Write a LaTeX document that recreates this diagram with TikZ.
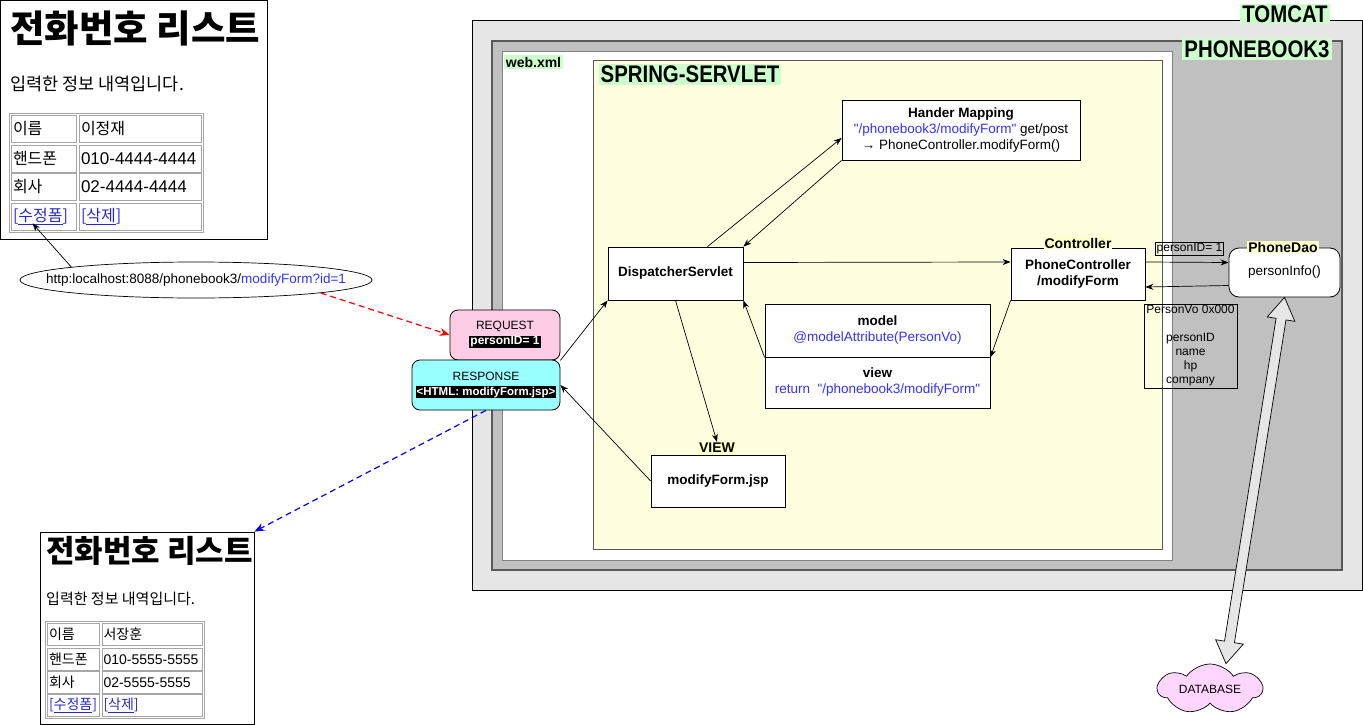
\documentclass[tikz,border=0pt]{standalone}
\usepackage{fontspec}
\setmainfont{Liberation Sans}[Ligatures=TeXOff]
\newfontfamily\kr{Noto Sans CJK KR}
\newfontfamily\tagfont{Liberation Sans}[FakeStretch=0.85]
\usetikzlibrary{positioning, arrows.meta, shapes.geometric, shapes.symbols, calc}
\setlength{\fboxsep}{1pt}
\definecolor{tomcatgray}{RGB}{230,230,230}
\definecolor{appgray}{RGB}{192,192,192}
\definecolor{springyellow}{RGB}{255,255,224}
\definecolor{taggreen}{RGB}{204,255,204}
\definecolor{tagyellow}{RGB}{255,255,200}
\definecolor{reqpink}{RGB}{255,204,230}
\definecolor{respcyan}{RGB}{153,255,255}
\definecolor{dbpink}{RGB}{255,214,255}
\definecolor{codeblue}{RGB}{51,51,255}
\definecolor{linkblue}{RGB}{40,40,200}
\tikzset{
  tag/.style={
    fill=taggreen,
    inner xsep=2pt,
    inner ysep=2pt,
    font=\tagfont\bfseries\fontsize{24}{26}\selectfont
  },
  boxtag/.style={
    fill=tagyellow,
    inner sep=1pt,
    font=\bfseries\fontsize{14}{16}\selectfont
  },
  unit/.style={
    draw=black,
    fill=white,
    line width=0.8pt,
    align=center,
    font=\fontsize{13.5}{16}\selectfont
  },
  cell/.style={
    draw=gray!70,
    line width=0.8pt,
    align=left,
    inner xsep=2pt,
    inner ysep=0pt
  },
  cellA/.style={cell, text width=61pt, minimum height=27pt, font=\kr\fontsize{16}{18}\selectfont},
  cellB/.style={cell, text width=118pt, minimum height=27pt, font=\fontsize{17}{18}\selectfont},
  cellC/.style={cell, text width=48pt, minimum height=22pt, font=\kr\fontsize{14}{16}\selectfont},
  cellD/.style={cell, inner xsep=1.5pt, text width=97pt, minimum height=22pt, font=\fontsize{14}{16}\selectfont},
  flow/.style={
    -{Stealth[length=8pt,width=6pt]},
    draw=black,
    line width=0.7pt
  },
  reqflow/.style={
    -{Stealth[length=10pt,width=8pt]},
    draw=red,
    line width=1.2pt,
    dash pattern=on 6pt off 4pt
  },
  respflow/.style={
    -{Stealth[length=10pt,width=8pt]},
    draw=blue,
    line width=1.2pt,
    dash pattern=on 6pt off 4pt
  }
}

\begin{document}
\begin{tikzpicture}[x=1pt, y=-1pt]
  \useasboundingbox (0,0) rectangle (1363,725);

  % server containers
  \node[draw=black, fill=tomcatgray, line width=0.8pt, minimum width=890pt, minimum height=570pt] (tomcat) at (917,305) {};
  \node[tag] (tomcattag) at (1285,14) {TOMCAT};
  \node[draw=black!65, fill=appgray, line width=1.2pt, minimum width=850pt, minimum height=529pt] (app) at (917,305.5) {};
  \node[tag] (apptag) at (1257,49) {PHONEBOOK3};
  \node[draw=black!50, fill=white, line width=1pt, minimum width=670pt, minimum height=508pt] (webxml) at (837,306) {};
  \node[tag, font=\bfseries\fontsize{14}{16}\selectfont] (webxmltag) at (533.5,62) {web.xml};
  \node[draw=black!65, fill=springyellow, line width=1pt, minimum width=569pt, minimum height=488pt] (spring) at (877.5,305) {};
  \node[tag] (springtag) at (690,74.5) {SPRING-SERVLET};

  % spring parts
  \node[unit, minimum width=238pt, minimum height=60pt] (hmap) at (961,130) {\textbf{Hander Mapping}\\\textcolor{codeblue}{"/phonebook3/modifyForm"} get/post\\→ PhoneController.modifyForm()};
  \node[unit, font=\bfseries\fontsize{13.5}{16}\selectfont, minimum width=135pt, minimum height=53pt] (disp) at (675.5,273.5) {DispatcherServlet};
  \node[unit, font=\bfseries\fontsize{13.5}{16}\selectfont, minimum width=134pt, minimum height=52pt] (ctrl) at (1078,274) {PhoneController\\/modifyForm};
  \node[boxtag] (ctrltag) at (1078,243) {Controller};
  \node[unit, minimum width=225pt, minimum height=53pt] (model) at (877.5,330.5) {\textbf{model}\\\textcolor{codeblue}{@modelAttribute(PersonVo)}};
  \node[unit, minimum width=225pt, minimum height=51pt] (view) at (877.5,382.5) {\textbf{view}\\\textcolor{codeblue}{return\ \ "/phonebook3/modifyForm"}};
  \node[unit, font=\bfseries\fontsize{13.5}{16}\selectfont, minimum width=134pt, minimum height=52pt] (jsp) at (718,481) {modifyForm.jsp};
  \node[boxtag] (viewtag) at (717,448) {VIEW};
  \node[unit, rounded corners=10pt, minimum width=111pt, minimum height=49pt] (dao) at (1284.5,272.5) {personInfo()};
  \node[boxtag] (daotag) at (1283,247) {PhoneDao};
  \node[draw=black, line width=0.7pt, inner sep=1pt, font=\fontsize{12}{14}\selectfont] (pid) at (1189.5,249) {personID= 1};
  \node[draw=black, line width=0.7pt, inner sep=0pt, minimum width=93pt, minimum height=84pt, align=center, font=\fontsize{12}{14}\selectfont] (vo) at (1190.5,346) {PersonVo 0x000\\\mbox{}\\personID\\name\\hp\\company};
  \node[cloud, cloud puffs=7, cloud puff arc=110, cloud ignores aspect, draw=black, fill=dbpink, line width=0.7pt, minimum width=104pt, minimum height=50pt, font=\fontsize{12}{14}\selectfont] (db) at (1210,689) {DATABASE};

  % request / response
  \node[draw=black, fill=reqpink, rounded corners=8pt, line width=0.8pt, minimum width=110pt, minimum height=50pt, align=center, font=\fontsize{12}{15}\selectfont] (req) at (505,335) {REQUEST\\\colorbox{black}{\textcolor{white}{\bfseries personID= 1}}};
  \node[draw=black, fill=respcyan, rounded corners=8pt, line width=0.8pt, minimum width=148pt, minimum height=50pt, align=center, font=\fontsize{12}{15}\selectfont] (resp) at (486,385) {RESPONSE\\\colorbox{black}{\textcolor{white}{\bfseries\fontsize{11.5}{13}\selectfont <HTML: modifyForm.jsp>}}};

  % browser page before
  \node[draw=black, line width=0.8pt, minimum width=267pt, minimum height=239pt] (page1) at (134,120) {};
  \node[anchor=west, inner sep=0pt, font=\kr\bfseries\fontsize{37.5}{38}\selectfont] (title1) at (10,28) {전화번호 리스트};
  \node[anchor=west, inner sep=0pt, font=\kr\fontsize{17.5}{19}\selectfont] (info1) at (10,84) {입력한 정보 내역입니다.};
  \node[draw=gray!70, line width=0.8pt, minimum width=194pt, minimum height=119pt] (table1) at (106,172.5) {};
  \node[cellA] (name1) at (43.5,129) {이름};
  \node[cellB, font=\kr\fontsize{16}{18}\selectfont] (nameval1) at (140,129) {이정재};
  \node[cellA] (phone1) at (43.5,158.5) {핸드폰};
  \node[cellB] (phoneval1) at (140,158.5) {010-4444-4444};
  \node[cellA] (comp1) at (43.5,187) {회사};
  \node[cellB] (compval1) at (140,187) {02-4444-4444};
  \node[cellA, text=linkblue] (edit1) at (43.5,216.5) {[\underline{수정폼}]};
  \node[cellB, text=linkblue, font=\kr\fontsize{16}{18}\selectfont] (del1) at (140,216.5) {[\underline{삭제}]};

  \node[draw=black, ellipse, line width=0.7pt, inner sep=0pt, minimum width=352pt, minimum height=36pt, font=\fontsize{13.5}{16}\selectfont] (url) at (196,280) {\makebox[0pt]{http:localhost:8088/phonebook3/\textcolor{codeblue}{modifyForm?id=1}}};

  % browser page after
  \node[draw=black, line width=0.8pt, minimum width=214pt, minimum height=192pt] (page2) at (147,628) {};
  \node[anchor=west, inner sep=0pt, font=\kr\bfseries\fontsize{31}{32}\selectfont] (title2) at (46,551) {전화번호 리스트};
  \node[anchor=west, inner sep=0pt, font=\kr\fontsize{15}{16}\selectfont] (info2) at (46,599) {입력한 정보 내역입니다.};
  \node[draw=gray!70, line width=0.8pt, minimum width=159pt, minimum height=97pt] (table2) at (124.5,669.5) {};
  \node[cellC] (name2) at (73,634.5) {이름};
  \node[cellD, font=\kr\fontsize{14}{16}\selectfont] (nameval2) at (152,634.5) {서장훈};
  \node[cellC] (phone2) at (73,659.5) {핸드폰};
  \node[cellD] (phoneval2) at (152,659.5) {\mbox{010-5555-5555}};
  \node[cellC] (comp2) at (73,682.5) {회사};
  \node[cellD] (compval2) at (152,682.5) {02-5555-5555};
  \node[cellC, text=linkblue] (edit2) at (73,705.5) {[\underline{수정폼}]};
  \node[cellD, text=linkblue, font=\kr\fontsize{14}{16}\selectfont] (del2) at (152,705.5) {[\underline{삭제}]};

  % connectors
  \draw[flow] (url.north west) -- ($(edit1.south)+(-11,-7)$);
  \draw[reqflow] (url.south east) -- (req.west);
  \draw[respflow] (resp.south) -- (page2.north east);
  \draw[flow] (req.south east) -- (disp.south west);
  \draw[flow] ($(disp.north)+(32,0)$) -- ($(hmap.west)+(0,8)$);
  \draw[flow] (hmap.south west) -- (disp.north east);
  \draw[flow] ($(disp.east)+(0,-11)$) -- ($(ctrl.west)+(0,-12)$);
  \draw[flow] (ctrl.south west) -- (model.south east);
  \draw[flow] (model.south west) -- (disp.south east);
  \draw[flow] (disp.south) -- (viewtag.north);
  \draw[flow] (jsp.west) -- (resp.east);
  \draw[flow] ($(ctrl.east)+(0,-12)$) -- ($(dao.west)+(0,-10)$);
  \draw[flow] ($(dao.west)+(0,13)$) -- ($(ctrl.east)+(0,13)$);

  % dao <-> database
  \coordinate (daotip) at (dao.south);
  \coordinate (dbtip) at ($(db.north)+(16,0)$);
  \coordinate (daobase) at ($(daotip)!22pt!(dbtip)$);
  \coordinate (dbbase) at ($(dbtip)!22pt!(daotip)$);
  \draw[fill=tomcatgray, line width=0.7pt, line join=miter]
    (daotip) -- ($(daobase)!14pt!90:(dbtip)$) -- ($(daobase)!5pt!90:(dbtip)$)
    -- ($(dbbase)!5pt!-90:(daotip)$) -- ($(dbbase)!14pt!-90:(daotip)$) -- (dbtip)
    -- ($(dbbase)!14pt!90:(daotip)$) -- ($(dbbase)!5pt!90:(daotip)$)
    -- ($(daobase)!5pt!-90:(dbtip)$) -- ($(daobase)!14pt!-90:(dbtip)$) -- cycle;
\end{tikzpicture}
\end{document}
